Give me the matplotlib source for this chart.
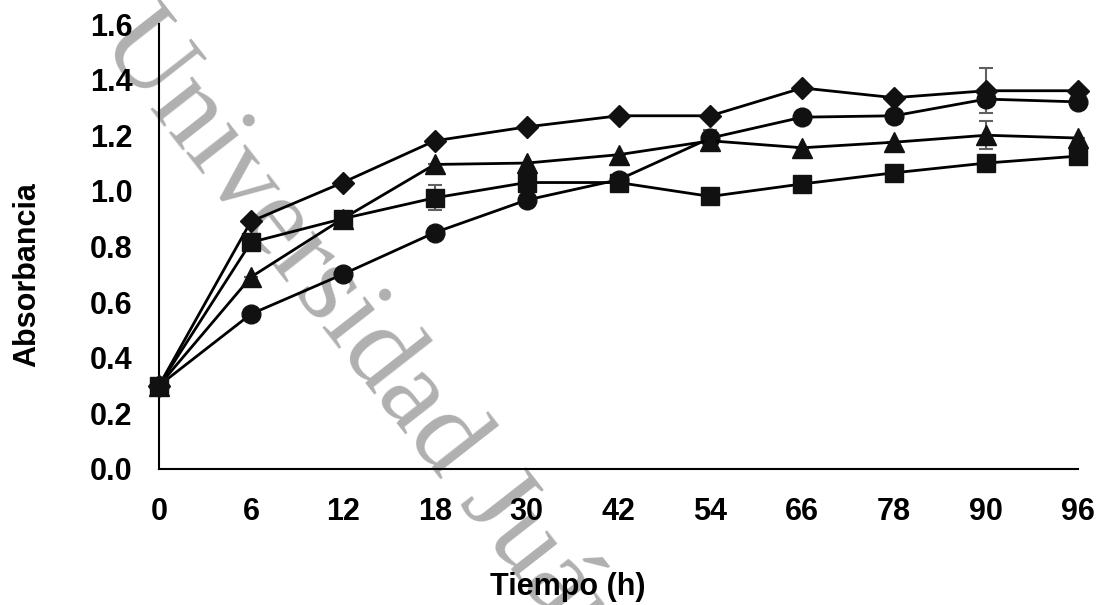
import numpy as np
import matplotlib
matplotlib.use("Agg")
import matplotlib.pyplot as plt

# sampling times (h) - plotted as equally spaced categories
tiempos = ["0", "6", "12", "18", "30", "42", "54", "66", "78", "90", "96"]

# absorbance for each treatment
rombo = [0.30, 0.89, 1.03, 1.18, 1.23, 1.27, 1.27, 1.37, 1.335, 1.36, 1.36]
circulo = [0.30, 0.557, 0.70, 0.85, 0.967, 1.04, 1.19, 1.265, 1.27, 1.33, 1.32]
triangulo = [0.30, 0.69, 0.90, 1.095, 1.10, 1.13, 1.18, 1.155, 1.175, 1.20, 1.19]
cuadrado = [0.30, 0.815, 0.90, 0.975, 1.03, 1.03, 0.98, 1.025, 1.065, 1.10, 1.125]

# standard deviations (only a few stick out of the markers)
err_rombo = [0, 0, 0, 0, 0, 0, 0, 0, 0, 0.08, 0]
err_circulo = [0, 0, 0, 0, 0, 0, 0.03, 0, 0, 0, 0]
err_triangulo = [0, 0, 0, 0, 0, 0, 0, 0, 0, 0.05, 0]
err_cuadrado = [0, 0, 0, 0.045, 0, 0, 0, 0, 0, 0, 0]

plt.rcParams['font.family'] = ['Liberation Sans', 'DejaVu Sans']
plt.rcParams['font.weight'] = 'bold'

fig = plt.figure(figsize=(11.02, 6.05), dpi=100)
ax = fig.add_axes([159/1102, 1 - 469/605, (1078-159)/1102, (469-24)/605])
ax.set_facecolor('none')

# watermark behind the chart
fig.text(160/1102, 1 + 8/605, "Universidad Juárez", family='Liberation Serif',
         fontsize=82, fontweight='normal', color='#b0b0b0', rotation=-52,
         rotation_mode='anchor', ha='left', va='top', zorder=-1)

x = np.arange(len(tiempos))
series = [(rombo, err_rombo, 'D', 11), (circulo, err_circulo, 'o', 13.5),
          (triangulo, err_triangulo, '^', 14), (cuadrado, err_cuadrado, 's', 13.5)]
for vals, err, mk, ms in series:
    ax.errorbar(x, vals, yerr=err, color='black', ecolor='#606060', elinewidth=1.5,
                capsize=5, capthick=1.5, lw=2, marker=mk, markersize=ms,
                markerfacecolor='#111111', markeredgecolor='#111111', clip_on=False, zorder=3)

ax.set_xlim(0, len(tiempos) - 1)
ax.set_ylim(0, 1.6)
ax.set_xticks(x)
ax.set_xticklabels(tiempos)
ax.set_yticks(np.arange(0, 1.61, 0.2))
ax.set_yticklabels([f"{v:.1f}" for v in np.arange(0, 1.61, 0.2)])
ax.tick_params(axis='both', length=0, labelsize=22)
ax.tick_params(axis='x', pad=20)
ax.tick_params(axis='y', pad=19)
for s in ['top', 'right']:
    ax.spines[s].set_visible(False)
for s in ['left', 'bottom']:
    ax.spines[s].set_linewidth(1.5)

ax.set_xlabel("Tiempo (h)", fontsize=22, fontweight='bold', va='center')
ax.set_ylabel("Absorbancia", fontsize=22, fontweight='bold', va='center')
ax.xaxis.set_label_coords((568-159)/919, -(587-469)/445)
ax.yaxis.set_label_coords(-(159-27)/919, (469-275)/445)

fig.savefig("out.png", dpi=100)
